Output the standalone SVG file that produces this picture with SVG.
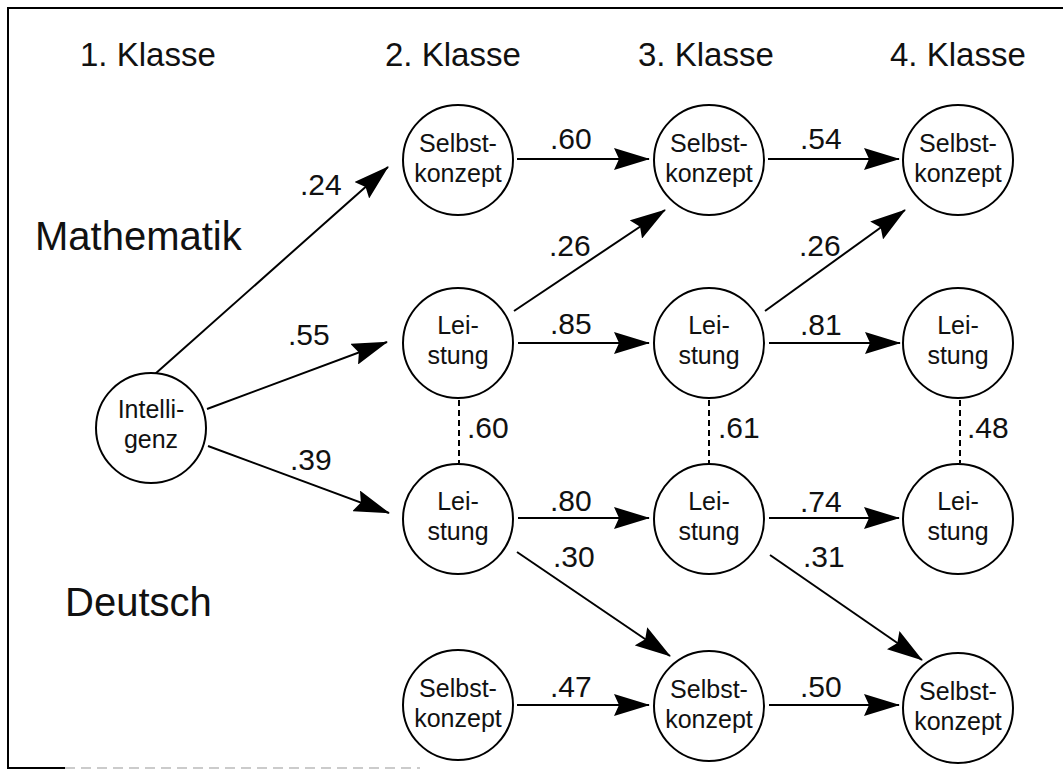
<svg xmlns="http://www.w3.org/2000/svg" width="1063" height="775" viewBox="0 0 1063 775">
<style>
.bg{fill:#fff}
.frame{fill:none;stroke:#000;stroke-width:2}
.faint{fill:none;stroke:#bbb;stroke-width:1.5;stroke-dasharray:10 6}
.node circle{fill:#fff;stroke:#000;stroke-width:2}
.nt{font-family:"Liberation Sans",Arial,sans-serif;font-size:25px;fill:#111;text-anchor:middle}
.hd{font-family:"Liberation Sans",Arial,sans-serif;font-size:33px;fill:#111}
.subj{font-family:"Liberation Sans",Arial,sans-serif;font-size:40px;fill:#111}
.lb{font-family:"Liberation Sans",Arial,sans-serif;font-size:30px;fill:#111}
.arr{fill:none;stroke:#000;stroke-width:2;marker-end:url(#ah)}
.dash{fill:none;stroke:#000;stroke-width:2;stroke-dasharray:6 4}
</style>
<defs>
<marker id="ah" viewBox="0 0 36 22" refX="35" refY="11" markerWidth="36" markerHeight="22" markerUnits="userSpaceOnUse" orient="auto">
<path d="M0,0 L36,11 L0,22 L5,11 z" fill="#000"/>
</marker>
</defs>
<rect class="bg" x="0" y="0" width="1063" height="775"/>
<path class="frame" d="M1063,8 H8 V768 H65"/>
<path class="faint" d="M65,768 H420"/>

<g id="headers">
<text class="hd" x="80" y="66">1. Klasse</text>
<text class="hd" x="385" y="66">2. Klasse</text>
<text class="hd" x="638" y="66">3. Klasse</text>
<text class="hd" x="890" y="66">4. Klasse</text>
<text class="subj" x="35" y="250">Mathematik</text>
<text class="subj" x="65" y="616">Deutsch</text>
</g>

<g id="connectors">
<path class="arr" d="M155,374 L388,167"/>
<path class="arr" d="M207,409 L387,342"/>
<path class="arr" d="M208,446 L389,513"/>
<path class="arr" d="M517,159 L649,159"/>
<path class="arr" d="M768,159 L899,159"/>
<path class="arr" d="M514,311 L665,210"/>
<path class="arr" d="M765,311 L905,210"/>
<path class="arr" d="M518,343 L649,343"/>
<path class="arr" d="M769,343 L900,343"/>
<path class="arr" d="M518,518 L649,518"/>
<path class="arr" d="M769,518 L899,518"/>
<path class="arr" d="M517,552 L670,656"/>
<path class="arr" d="M770,555 L922,660"/>
<path class="arr" d="M517,705 L649,705"/>
<path class="arr" d="M769,705 L899,705"/>
<path class="dash" d="M459,400 V463"/>
<path class="dash" d="M709,400 V463"/>
<path class="dash" d="M960,400 V463"/>
<text class="lb" x="300" y="195">.24</text>
<text class="lb" x="288" y="345">.55</text>
<text class="lb" x="290" y="470">.39</text>
<text class="lb" x="550" y="149">.60</text>
<text class="lb" x="800" y="149">.54</text>
<text class="lb" x="549" y="256">.26</text>
<text class="lb" x="799" y="256">.26</text>
<text class="lb" x="550" y="334">.85</text>
<text class="lb" x="800" y="335">.81</text>
<text class="lb" x="550" y="511">.80</text>
<text class="lb" x="800" y="512">.74</text>
<text class="lb" x="553" y="567">.30</text>
<text class="lb" x="803" y="567">.31</text>
<text class="lb" x="550" y="697">.47</text>
<text class="lb" x="800" y="697">.50</text>
<text class="lb" x="467" y="438">.60</text>
<text class="lb" x="718" y="438">.61</text>
<text class="lb" x="967" y="438">.48</text>
</g>

<g id="n-int" class="node"><circle cx="151" cy="428" r="55"/><text class="nt" x="151" y="418">Intelli-</text><text class="nt" x="151" y="448">genz</text></g>

<g id="n-msk2" class="node"><circle cx="458" cy="160" r="55"/><text class="nt" x="458" y="152">Selbst-</text><text class="nt" x="458" y="182">konzept</text></g>
<g id="n-msk3" class="node"><circle cx="709" cy="160" r="55"/><text class="nt" x="709" y="152">Selbst-</text><text class="nt" x="709" y="182">konzept</text></g>
<g id="n-msk4" class="node"><circle cx="958" cy="160" r="55"/><text class="nt" x="958" y="152">Selbst-</text><text class="nt" x="958" y="182">konzept</text></g>

<g id="n-ml2" class="node"><circle cx="458" cy="343" r="55"/><text class="nt" x="458" y="334">Lei-</text><text class="nt" x="458" y="364">stung</text></g>
<g id="n-ml3" class="node"><circle cx="709" cy="343" r="55"/><text class="nt" x="709" y="334">Lei-</text><text class="nt" x="709" y="364">stung</text></g>
<g id="n-ml4" class="node"><circle cx="958" cy="343" r="55"/><text class="nt" x="958" y="334">Lei-</text><text class="nt" x="958" y="364">stung</text></g>

<g id="n-dl2" class="node"><circle cx="458" cy="519" r="55"/><text class="nt" x="458" y="510">Lei-</text><text class="nt" x="458" y="540">stung</text></g>
<g id="n-dl3" class="node"><circle cx="709" cy="519" r="55"/><text class="nt" x="709" y="510">Lei-</text><text class="nt" x="709" y="540">stung</text></g>
<g id="n-dl4" class="node"><circle cx="958" cy="519" r="55"/><text class="nt" x="958" y="510">Lei-</text><text class="nt" x="958" y="540">stung</text></g>

<g id="n-dsk2" class="node"><circle cx="458" cy="705" r="55"/><text class="nt" x="458" y="697">Selbst-</text><text class="nt" x="458" y="727">konzept</text></g>
<g id="n-dsk3" class="node"><circle cx="709" cy="706" r="55"/><text class="nt" x="709" y="698">Selbst-</text><text class="nt" x="709" y="728">konzept</text></g>
<g id="n-dsk4" class="node"><circle cx="958" cy="708" r="55"/><text class="nt" x="958" y="700">Selbst-</text><text class="nt" x="958" y="730">konzept</text></g>
</svg>
